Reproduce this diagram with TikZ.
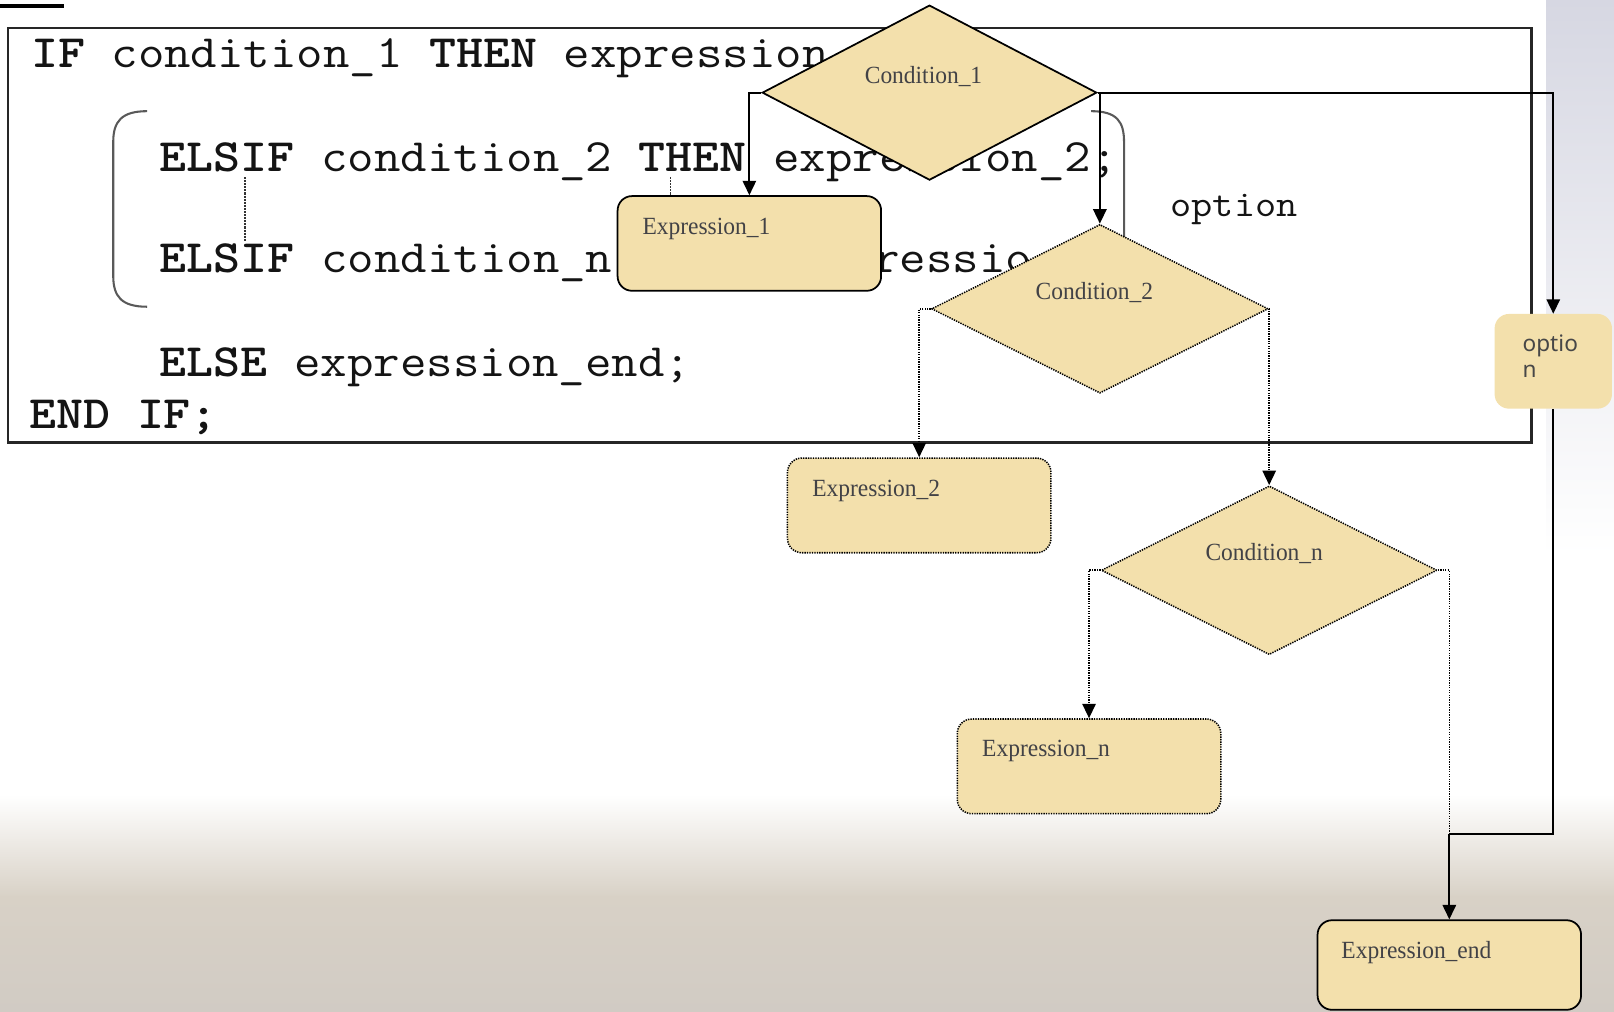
\documentclass[tikz,border=0pt]{standalone}
\usepackage{fontspec}
\newfontfamily\lblfont{Liberation Serif}
\newfontfamily\optfont{Noto Sans}
\usetikzlibrary{shapes.geometric,arrows.meta}
\definecolor{tanfill}{RGB}{243,224,172}
\definecolor{lblgray}{RGB}{66,66,70}
\definecolor{bgbeige}{RGB}{216,209,198}
\definecolor{bgbottom}{RGB}{209,203,196}
\definecolor{lavgray}{RGB}{214,215,226}
\begin{document}
\begin{tikzpicture}[x=1pt,y=-1pt,
  codetxt/.style={anchor=base west, inner sep=0pt, text=black!92,
    font=\fontsize{45}{50}\selectfont\ttfamily},
  cond/.style={diamond, fill=tanfill, inner sep=0pt},
  solidb/.style={draw=black, line width=1.7pt},
  dotb/.style={draw=black, line width=1.5pt, dash pattern=on 1.3pt off 1.1pt},
  exprbox/.style={rectangle, rounded corners=14pt, fill=tanfill,
    minimum width=256pt, minimum height=92pt, inner sep=0pt},
  lbl/.style={anchor=base west, inner sep=0pt, text=lblgray,
    font=\fontsize{24}{28}\selectfont\lblfont},
  conn/.style={line width=1.7pt, -{Triangle[length=14pt,width=13pt]}},
  dconn/.style={line width=1.5pt, dash pattern=on 1.3pt off 1.1pt,
    -{Triangle[length=14pt,width=13pt]}},
  ellip/.style={line width=1pt, draw=black!80, dash pattern=on 2pt off 1pt}
]
% background
\useasboundingbox (0,0) rectangle (1568,983);
\fill[white] (0,0) rectangle (1568,983);
\shade[top color=lavgray, bottom color=white] (1502,0) rectangle (1568,540);
\shade[top color=white, bottom color=bgbeige] (0,772) rectangle (1568,872);
\shade[top color=bgbeige, bottom color=bgbottom] (0,871) rectangle (1568,983);
% top-left bar
\fill[black] (0,4) rectangle (62,8);
% code frame
\draw[line width=2.4pt, draw=black!85] (8,27) rectangle (1488,430);
% code text
\node[codetxt] (l1) at (30,66) {\scalebox{1.11}[1]{\textbf{IF} condition\_1 \textbf{THEN} expression}};
\node[codetxt] (l2) at (155,167) {\scalebox{1.11}[1]{\textbf{ELSIF} condition\_2 \textbf{THEN} expression\_2;}};
\node[codetxt] (l3) at (155,265) {\scalebox{1.11}[1]{\textbf{ELSIF} condition\_n}};
\node[codetxt] (l3b) at (848,265) {\scalebox{1.11}[1]{ressio}};
\node[codetxt] (l4) at (155,366) {\scalebox{1.11}[1]{\textbf{ELSE} expression\_end;}};
\node[codetxt] (l5) at (28,416) {\scalebox{1.11}[1]{\textbf{END IF;}}};
\node[codetxt, font=\fontsize{36}{40}\selectfont\ttfamily] (optlbl) at (1137,210) {\scalebox{1.11}[1]{option}};
% brackets and ellipsis
\draw[line width=2pt, draw=black!65] (143,108) .. controls (118,108) and (110,118) .. (110,138) -- (110,268) .. controls (110,288) and (118,298) .. (143,298);
\draw[line width=2pt, draw=black!65] (1060,108) .. controls (1085,108) and (1092,118) .. (1092,138) -- (1092,268) .. controls (1092,288) and (1085,298) .. (1060,298);
\draw[ellip] (238,172) -- (238,234);
\draw[ellip] (651,172) -- (651,192);
% flowchart nodes
\node[cond, solidb, minimum width=325pt, minimum height=170pt] (c1) at (903,90) {};
\node[exprbox, solidb] (e1) at (728,236.5) {};
\node[cond, dotb, minimum width=327pt, minimum height=164pt] (c2) at (1068.5,300) {};
\node[exprbox, dotb] (e2) at (893,491) {};
\node[cond, dotb, minimum width=326pt, minimum height=164pt] (cn) at (1233,554) {};
\node[exprbox, dotb] (en) at (1058,744.5) {};
\node[exprbox, solidb, minimum height=87pt] (eend) at (1408,937.5) {};
\node[rectangle, rounded corners=14pt, fill=tanfill, minimum width=114pt, minimum height=92pt, inner sep=0pt] (opt) at (1509,351) {};
% labels
\node[lbl] (c1t) at (840,81) {\scalebox{0.95}[1]{Condition\_1}};
\node[lbl] (e1t) at (624,228) {\scalebox{0.95}[1]{Expression\_1}};
\node[lbl] (c2t) at (1006,291) {\scalebox{0.95}[1]{Condition\_2}};
\node[lbl] (e2t) at (789,482) {\scalebox{0.95}[1]{Expression\_2}};
\node[lbl] (cnt) at (1171,545) {\scalebox{0.95}[1]{Condition\_n}};
\node[lbl] (ent) at (954,735) {\scalebox{0.95}[1]{Expression\_n}};
\node[lbl] (eendt) at (1303,931) {\scalebox{0.95}[1]{Expression\_end}};
\node[anchor=base west, inner sep=0pt, text=black!72, font=\fontsize{22}{26}\selectfont\optfont, align=left] (optt) at (1479,367) {optio\\n};
% connectors
\coordinate (j) at (1408,810);
\draw[conn] (c1.west) -| (e1.north);
\draw[conn] (c1.east) -| (c2.north);
\draw[conn] (c1.east) -| (opt.north);
\draw[dconn] (c2.west) -| (e2.north);
\draw[dconn] (c2.east) -| (cn.north);
\draw[dconn] (cn.west) -| (en.north);
\draw[line width=1.5pt, dash pattern=on 1.3pt off 1.1pt] (cn.east) -| (j);
\draw[line width=1.7pt] (opt.south) |- (j);
\draw[conn] (j) -- (eend.north);
\end{tikzpicture}
\end{document}
